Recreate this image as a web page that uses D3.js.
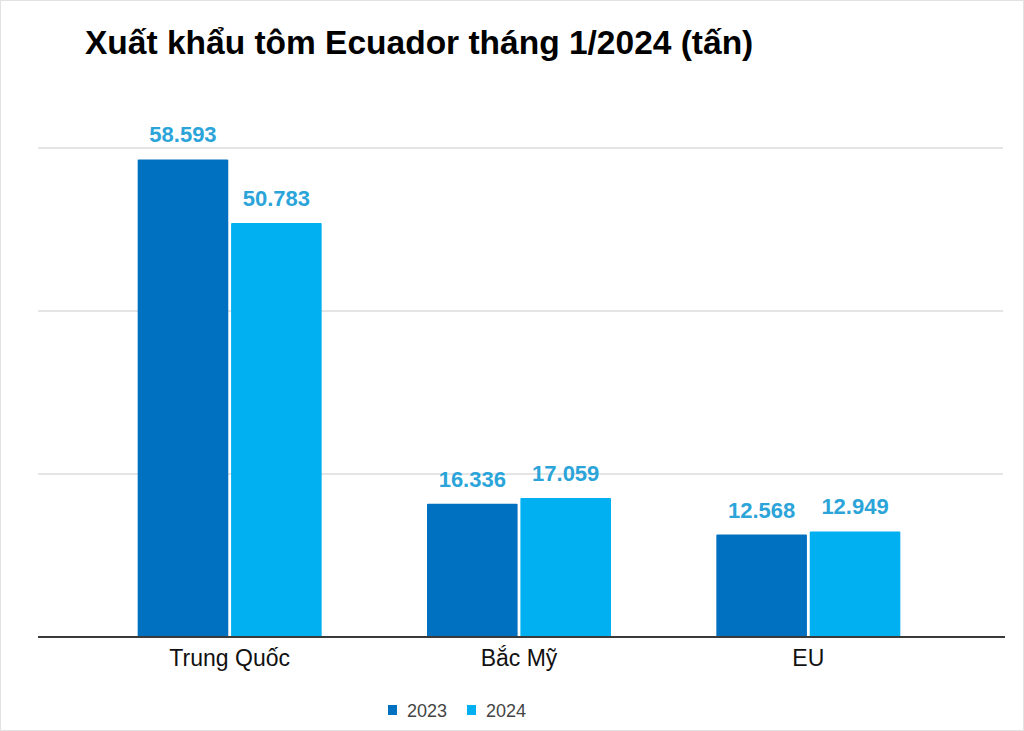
<!DOCTYPE html>
<html>
<head>
	<title>Xuất khẩu tôm Ecuador</title>
	<meta charset="utf-8">
	<script src="https://cdnjs.cloudflare.com/ajax/libs/d3/7.8.5/d3.min.js"></script>
	<style>
		body { margin: 0; background: #fff; }
		svg { display: block; font-family: "Liberation Sans", Arial, sans-serif; }
	</style>
</head>
<body>
	<script type="text/javascript">

		// data (tấn)
		let categories = ['Trung Quốc', 'Bắc Mỹ', 'EU'];
		let years = ['2023', '2024'];
		let values2023 = [58593, 16336, 12568];
		let values2024 = [50783, 17059, 12949];
		let gridTicks = [0, 20000, 40000, 60000];

		let colors = {'2023': '#0070c0', '2024': '#00b0f0'};
		let labelColor = '#2ba4d9';

		let width = 1024, height = 731;

		let svg = d3.select('body').append('svg')
			.attr('width', width)
			.attr('height', height);

		// faint frame around the picture
		svg.append('rect')
			.attr('x', 0.5).attr('y', 0.5)
			.attr('width', width - 1).attr('height', height - 1)
			.attr('fill', 'none')
			.attr('stroke', '#e2e2e2');

		// title
		svg.append('text')
			.attr('x', 85)
			.attr('y', 54)
			.attr('font-size', 33.5)
			.attr('font-weight', 'bold')
			.attr('fill', '#000')
			.text('Xuất khẩu tôm Ecuador tháng 1/2024 (tấn)');

		let y = d3.scaleLinear()
			.domain([0, 60000])
			.range([637, 148]);

		let x0 = d3.scaleBand()
			.domain(categories)
			.range([85, 953]);

		let groupW = 184;
		let x1 = d3.scaleBand()
			.domain(years)
			.range([0, groupW])
			.paddingInner(0.03);

		//gridlines
		svg.append('g').selectAll('line')
			.data(gridTicks.filter(d => d > 0))
			.enter().append('line')
			.attr('x1', 38).attr('x2', 1003)
			.attr('y1', d => y(d)).attr('y2', d => y(d))
			.attr('stroke', '#dcdcdc')
			.attr('stroke-width', 1.5);

		let rows = categories.map((c, i) => ({
			cat: c,
			bars: [
				{year: '2023', value: values2023[i]},
				{year: '2024', value: values2024[i]}
			]
		}));

		let groups = svg.append('g').selectAll('g')
			.data(rows)
			.enter().append('g')
			.attr('transform', d => 'translate(' + (x0(d.cat) + (x0.bandwidth() - groupW) / 2) + ',0)');

		groups.selectAll('rect')
			.data(d => d.bars)
			.enter().append('rect')
			.attr('x', d => x1(d.year))
			.attr('y', d => y(d.value))
			.attr('width', x1.bandwidth())
			.attr('height', d => y(0) - y(d.value))
			.attr('rx', 1)
			.attr('fill', d => colors[d.year]);

		groups.selectAll('text.val')
			.data(d => d.bars)
			.enter().append('text')
			.attr('class', 'val')
			.attr('x', d => x1(d.year) + x1.bandwidth() / 2)
			.attr('y', d => y(d.value) - 17)
			.attr('text-anchor', 'middle')
			.attr('font-size', 22)
			.attr('font-weight', 'bold')
			.attr('fill', labelColor)
			.text(d => d3.format(',')(d.value).replace(/,/g, '.'));

		// baseline axis
		let xAxis = d3.axisBottom(x0).tickSize(0);
		let axisG = svg.append('g')
			.attr('transform', 'translate(0,' + y(0) + ')')
			.call(xAxis);
		axisG.select('.domain').remove();
		axisG.append('line')
			.attr('x1', 38).attr('x2', 1005)
			.attr('stroke', '#3a3a3a')
			.attr('stroke-width', 2);
		axisG.selectAll('text')
			.attr('y', 29)
			.attr('dy', null)
			.attr('font-size', 23)
			.attr('font-family', '"Liberation Sans", Arial, sans-serif')
			.attr('fill', '#111');

		// legend
		let legend = svg.append('g').selectAll('g')
			.data(years)
			.enter().append('g')
			.attr('transform', (d, i) => 'translate(' + (388 + i * 79) + ',705)');
		legend.append('rect')
			.attr('width', 9).attr('height', 10)
			.attr('fill', d => colors[d]);
		legend.append('text')
			.attr('x', 19).attr('y', 12)
			.attr('font-size', 18)
			.attr('fill', '#444')
			.text(d => d);

	</script>
</body>
</html>
